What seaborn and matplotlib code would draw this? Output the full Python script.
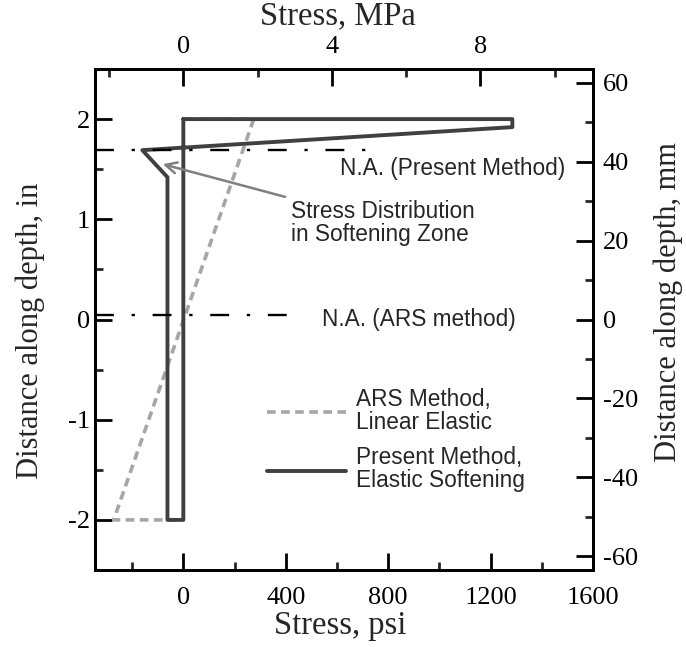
import numpy as np
import pandas as pd
import matplotlib
matplotlib.use("Agg")
import matplotlib.pyplot as plt
from matplotlib.ticker import MultipleLocator
import seaborn as sns

# ---- data (psi, in) ----
present_x = [0, 1285, 1285, -160, -62, -62, 0, 0]
present_y = [2.0, 2.0, 1.92, 1.69, 1.42, -2.0, -2.0, 2.0]
ars_x = [0, 275, -272, 0]
ars_y = [2.0, 2.0, -2.0, -2.0]
na_present_x = [-345, 730]
na_present_y = [1.69, 1.69]
na_ars_x = [-345, 463]
na_ars_y = [0.04, 0.04]
legend_labels = ["ARS Method,\nLinear Elastic", "Present Method,\nElastic Softening"]

PSI_PER_MPA = 145.038
MM_PER_IN = 25.4

sns.set_style("ticks")
plt.rcParams['font.family'] = ['Liberation Serif', 'DejaVu Serif']
plt.rcParams['axes.unicode_minus'] = False
SANS = ['Liberation Sans', 'DejaVu Sans']
FS_SANS = 16.3
FS_XLAB = 23.5
FS_YLAB = 22

W, H = 686, 647
fig = plt.figure(figsize=(W/100, H/100), dpi=100)
ax = fig.add_axes([95/W, 1-570/H, (593-95)/W, (570-69)/H])

df_ars = pd.DataFrame({"x": ars_x, "y": ars_y})
df_pre = pd.DataFrame({"x": present_x, "y": present_y})

sns.lineplot(data=df_ars, x="x", y="y", sort=False, estimator=None, ax=ax,
             color="#a6a6a6", linewidth=2.6, linestyle=(0, (2.4, 1.5)),
             label=legend_labels[0])
sns.lineplot(data=df_pre, x="x", y="y", sort=False, estimator=None, ax=ax,
             color="#404040", linewidth=2.8, label=legend_labels[1])
na_style = (0, (8, 7.5, 1.4, 7.5))
ax.plot(na_present_x, na_present_y, color="black", linewidth=1.7, linestyle=na_style)
ax.plot(na_ars_x, na_ars_y, color="black", linewidth=1.7, linestyle=na_style)

ax.set_xlim(-345, 1600)
ax.set_ylim(-2.5, 2.5)
ax.xaxis.set_major_locator(MultipleLocator(400))
ax.xaxis.set_minor_locator(MultipleLocator(200))
ax.yaxis.set_major_locator(MultipleLocator(1))
ax.yaxis.set_minor_locator(MultipleLocator(0.5))
ax.set_xlabel("Stress, psi", fontsize=FS_XLAB)
ax.set_ylabel("Distance along depth, in", fontsize=FS_YLAB)

def style_axis(a):
    for s in a.spines.values():
        s.set_linewidth(2)
        s.set_color("black")
    a.tick_params(which="major", direction="in", length=12, width=2, labelsize=19, colors="black")
    a.tick_params(which="minor", direction="in", length=6, width=2)

style_axis(ax)
ax.tick_params(axis="x", pad=12)

# top axis MPa
axt = ax.twiny()
axt.set_xlim(-345/PSI_PER_MPA, 1600/PSI_PER_MPA)
axt.xaxis.set_major_locator(MultipleLocator(4))
axt.xaxis.set_minor_locator(MultipleLocator(2))
axt.set_xlabel("Stress, MPa", fontsize=FS_XLAB)
style_axis(axt)
axt.tick_params(axis="x", pad=8)

# right axis mm
axr = ax.twinx()
axr.set_ylim(-2.5*MM_PER_IN, 2.5*MM_PER_IN)
axr.yaxis.set_major_locator(MultipleLocator(20))
axr.yaxis.set_minor_locator(MultipleLocator(10))
axr.set_ylabel("Distance along depth, mm", fontsize=FS_YLAB)
style_axis(axr)
axr.tick_params(axis="y", pad=7)

# texts
ax.text(340/W, 1-168/H, "N.A. (Present Method)", transform=fig.transFigure,
        fontsize=FS_SANS, family=SANS, va="center", ha="left")
ax.text(322/W, 1-320/H, "N.A. (ARS method)", transform=fig.transFigure,
        fontsize=FS_SANS, family=SANS, va="center", ha="left")
ax.annotate("Stress Distribution\nin Softening Zone", xy=(-80, 1.55),
            xytext=(291/W, 1-223/H), textcoords=fig.transFigure,
            fontsize=FS_SANS, family=SANS, va="center", ha="left", linespacing=1.05,
            arrowprops=dict(arrowstyle="->", color="#808080", lw=1.8,
                            shrinkA=2, shrinkB=0, mutation_scale=20))

leg = ax.legend(loc="upper left", bbox_to_anchor=(267/W, 1-388/H),
                bbox_transform=fig.transFigure, frameon=False,
                prop={"family": SANS, "size": FS_SANS}, handlelength=3.5,
                handletextpad=0.45, labelspacing=0.55, borderpad=0, borderaxespad=0)
for t in leg.get_texts():
    t.set_linespacing(1.0)

# place axis labels so their centres sit where the reference has them
fig.canvas.draw()
def place_label(axis, cx, cy):
    lab = axis.label
    bb = lab.get_window_extent()
    anchor = lab.get_transform().transform(lab.get_position())
    off = anchor - np.array([bb.x0 + bb.width/2, bb.y0 + bb.height/2])
    target = np.array([cx, H - cy]) + off
    fx, fy = fig.transFigure.inverted().transform(target)
    axis.set_label_coords(fx, fy, transform=fig.transFigure)

place_label(ax.yaxis, 30, 331)
place_label(axr.yaxis, 668, 302)
place_label(ax.xaxis, 340, 626)
place_label(axt.xaxis, 338, 16)

fig.savefig("out.png", dpi=100)
